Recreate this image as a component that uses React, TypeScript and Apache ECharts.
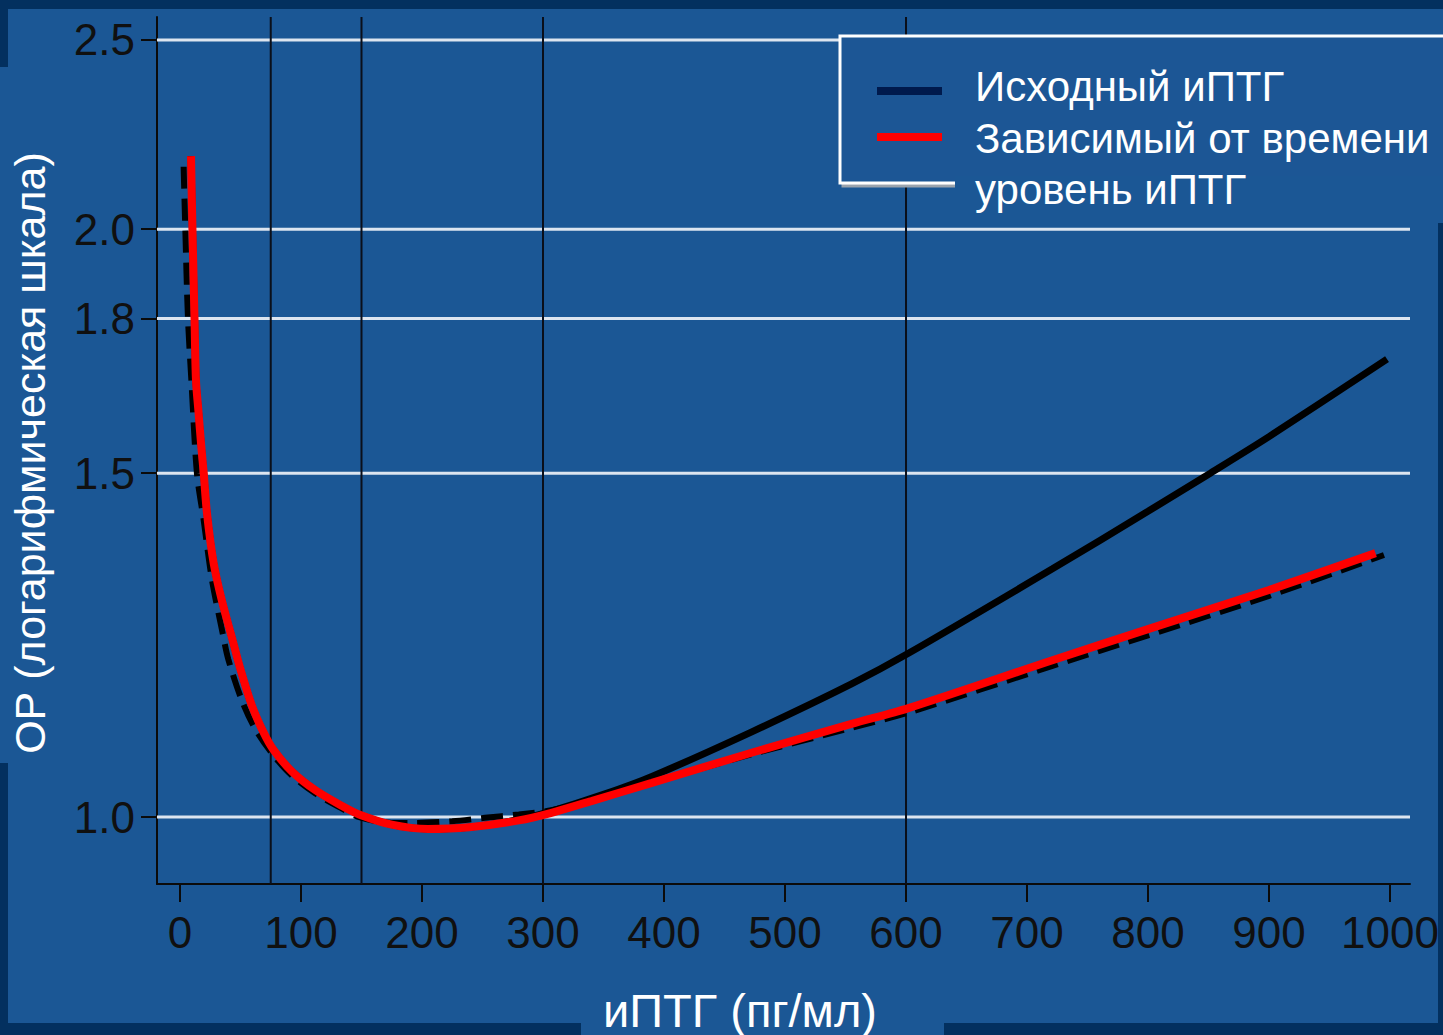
import React, { useEffect, useRef } from 'react';
import * as echarts from 'echarts';

// ---- Data ----
const xTicks = [0, 100, 200, 300, 400, 500, 600, 700, 800, 900, 1000];
const yTicks = [1.0, 1.5, 1.8, 2.0, 2.5];
const refLinesX = [75, 150, 300, 600];

// Исходный иПТГ (solid black)
const xBase = [9.1, 10.3, 12, 13.2, 15.2, 17.6, 19.6, 22.3, 27.8, 34.7, 43, 50, 59.5, 69, 77, 92.6, 112, 134, 148, 175, 205, 239, 280, 307, 350, 390, 473, 555, 602, 721, 800, 851.5, 900, 997.5];
const orBase = [2.18, 2.0, 1.8, 1.674, 1.615, 1.548, 1.5, 1.431, 1.349, 1.29, 1.235, 1.19, 1.14, 1.105, 1.083, 1.055, 1.032, 1.013, 1.003, 0.991, 0.986, 0.988, 0.997, 1.007, 1.027, 1.049, 1.106, 1.17, 1.213, 1.34, 1.434, 1.5, 1.566, 1.716];

// Зависимый от времени уровень иПТГ (red)
const xTime = [9.1, 10.3, 12, 13.2, 15.2, 17.6, 19.6, 22.3, 27.8, 34.7, 43, 50, 59.5, 69, 77, 92.6, 112, 134, 148, 175, 205, 239, 280, 307, 340, 390, 473, 555, 602, 721, 800, 900, 988];
const orTime = [2.18, 2.0, 1.8, 1.674, 1.615, 1.548, 1.5, 1.431, 1.349, 1.29, 1.235, 1.19, 1.14, 1.105, 1.083, 1.055, 1.032, 1.013, 1.003, 0.991, 0.986, 0.988, 0.996, 1.005, 1.019, 1.041, 1.079, 1.116, 1.137, 1.203, 1.248, 1.307, 1.365];

// dashed black curve
const xDash = [3.0, 4.4, 6.6, 9.4, 14, 19.6, 26.4, 34.7, 40, 51, 62, 77, 92.6, 112, 134, 148, 175, 192, 225, 252, 280, 307, 340, 390, 431, 473, 555, 602, 721, 800, 900, 995];
const orDash = [2.153, 2.0, 1.8, 1.674, 1.5, 1.419, 1.323, 1.247, 1.204, 1.148, 1.11, 1.076, 1.05, 1.028, 1.01, 1.0, 0.993, 0.993, 0.995, 0.999, 1.003, 1.008, 1.02, 1.042, 1.059, 1.077, 1.111, 1.131, 1.195, 1.239, 1.298, 1.362];

const legendNames = ['Исходный иПТГ', 'Зависимый от времени', 'уровень иПТГ'];
const xTitle = 'иПТГ (пг/мл)';
const yTitle = 'ОР (логарифмическая шкала)';

// ---- Layout / style ----
const X_MIN = -19.0;
const X_MAX = 1016.5;
const Y_MIN = -0.079;
const Y_MAX = 0.9434;
const FONT = '"Liberation Sans", Arial, sans-serif';
const BG = '#1b5795';
const DARK = '#03305f';
const INK = '#0b0b0b';

const toSeries = (xs: number[], ys: number[]) => xs.map((x, i) => [x, Math.log(ys[i])]);

function buildOption() {
  return {
    animation: false,
    backgroundColor: BG,
    grid: { left: 157, top: 17, width: 1253, height: 867, containLabel: false },
    xAxis: {
      type: 'value',
      min: X_MIN,
      max: X_MAX,
      axisLine: { show: true, onZero: false, lineStyle: { color: INK, width: 2 } },
      axisTick: { show: true, customValues: xTicks, length: 18, lineStyle: { color: INK, width: 2 } },
      axisLabel: {
        customValues: xTicks,
        fontSize: 44,
        color: '#101010',
        fontFamily: FONT,
        margin: 26,
        formatter: (v: number) => String(Math.round(v)),
      },
      splitLine: { show: false },
    },
    yAxis: {
      type: 'value',
      min: Y_MIN,
      max: Y_MAX,
      axisLine: { show: true, onZero: false, lineStyle: { color: INK, width: 2 } },
      axisTick: { show: true, customValues: yTicks.map(Math.log), length: 16, lineStyle: { color: INK, width: 2 } },
      axisLabel: {
        customValues: yTicks.map(Math.log),
        fontSize: 44,
        color: '#101010',
        fontFamily: FONT,
        margin: 22,
        formatter: (v: number) => Math.exp(v).toFixed(1),
      },
      splitLine: { show: false },
    },
    series: [
      {
        type: 'custom',
        name: 'grid',
        silent: true,
        z: 1,
        data: yTicks.map((v) => [0, Math.log(v)]),
        renderItem: (params: any, api: any) => {
          const yv = api.value(1);
          const p1 = api.coord([X_MIN, yv]);
          const p2 = api.coord([X_MAX, yv]);
          return {
            type: 'line',
            shape: { x1: p1[0], y1: p1[1], x2: p2[0], y2: p2[1] },
            style: { stroke: '#dce5f0', lineWidth: 3 },
          };
        },
      },
      {
        type: 'custom',
        name: 'ref',
        silent: true,
        z: 1,
        data: refLinesX.map((v) => [v, 0]),
        renderItem: (params: any, api: any) => {
          const xv = api.value(0);
          const p1 = api.coord([xv, Y_MIN]);
          const p2 = api.coord([xv, Y_MAX]);
          return {
            type: 'line',
            shape: { x1: p1[0], y1: p1[1], x2: p2[0], y2: p2[1] },
            style: { stroke: '#0a0f1a', lineWidth: 2 },
          };
        },
      },
      {
        type: 'line',
        name: 'dashed',
        z: 3,
        showSymbol: false,
        smooth: 0.3,
        data: toSeries(xDash, orDash),
        lineStyle: { color: '#000', width: 6, type: [22, 10] },
      },
      {
        type: 'line',
        name: legendNames[0],
        z: 4,
        showSymbol: false,
        smooth: 0.3,
        data: toSeries(xBase, orBase),
        lineStyle: { color: '#000', width: 7 },
      },
      {
        type: 'line',
        name: legendNames[1] + ' ' + legendNames[2],
        z: 5,
        showSymbol: false,
        smooth: 0.3,
        data: toSeries(xTime, orTime),
        lineStyle: { color: '#ff0000', width: 8 },
      },
    ],
    graphic: [
      // dark frame strips
      { type: 'rect', z: -10, shape: { x: 0, y: 0, width: 1443, height: 9 }, style: { fill: DARK } },
      { type: 'rect', z: -10, shape: { x: 0, y: 0, width: 8, height: 67 }, style: { fill: DARK } },
      { type: 'rect', z: -10, shape: { x: 0, y: 763, width: 8, height: 272 }, style: { fill: DARK } },
      { type: 'rect', z: -10, shape: { x: 0, y: 1023, width: 581, height: 12 }, style: { fill: DARK } },
      { type: 'rect', z: -10, shape: { x: 944, y: 1023, width: 499, height: 12 }, style: { fill: DARK } },
      { type: 'rect', z: -10, shape: { x: 1438, y: 223, width: 5, height: 812 }, style: { fill: DARK } },
      // axis titles
      {
        type: 'text',
        z: 50,
        x: 30,
        y: 453,
        rotation: Math.PI / 2,
        style: { text: yTitle, fill: '#ffffff', fontSize: 43, fontFamily: FONT, textAlign: 'center', textVerticalAlign: 'middle' },
      },
      {
        type: 'text',
        z: 50,
        x: 740,
        y: 1010,
        style: { text: xTitle, fill: '#ffffff', fontSize: 47, fontFamily: FONT, textAlign: 'center', textVerticalAlign: 'middle' },
      },
      // legend box
      {
        type: 'rect',
        z: 100,
        shape: { x: 840, y: 36, width: 640, height: 147 },
        style: { fill: BG, stroke: '#ffffff', lineWidth: 3, shadowColor: '#9aa3ad', shadowOffsetX: 3, shadowOffsetY: 3, shadowBlur: 0 },
      },
      { type: 'rect', z: 101, shape: { x: 955, y: 176, width: 488, height: 47 }, style: { fill: BG } },
      { type: 'line', z: 102, shape: { x1: 877, y1: 91, x2: 942, y2: 91 }, style: { stroke: '#001a4d', lineWidth: 8 } },
      { type: 'line', z: 102, shape: { x1: 877, y1: 137, x2: 942, y2: 137 }, style: { stroke: '#ff0000', lineWidth: 8 } },
      {
        type: 'text', z: 102, x: 975, y: 86,
        style: { text: legendNames[0], fill: '#ffffff', fontSize: 42, fontFamily: FONT, textAlign: 'left', textVerticalAlign: 'middle' },
      },
      {
        type: 'text', z: 102, x: 975, y: 138,
        style: { text: legendNames[1], fill: '#ffffff', fontSize: 42, fontFamily: FONT, textAlign: 'left', textVerticalAlign: 'middle' },
      },
      {
        type: 'text', z: 102, x: 975, y: 189,
        style: { text: legendNames[2], fill: '#ffffff', fontSize: 42, fontFamily: FONT, textAlign: 'left', textVerticalAlign: 'middle' },
      },
    ],
  };
}

export default function App() {
  const ref = useRef<HTMLDivElement>(null);
  useEffect(() => {
    document.body.style.margin = '0';
    const chart = echarts.init(ref.current as HTMLDivElement, null, { renderer: 'svg' });
    chart.setOption(buildOption() as any);
    return () => chart.dispose();
  }, []);
  return <div ref={ref} style={{ position: 'absolute', left: 0, top: 0, width: 1443, height: 1035 }} />;
}
